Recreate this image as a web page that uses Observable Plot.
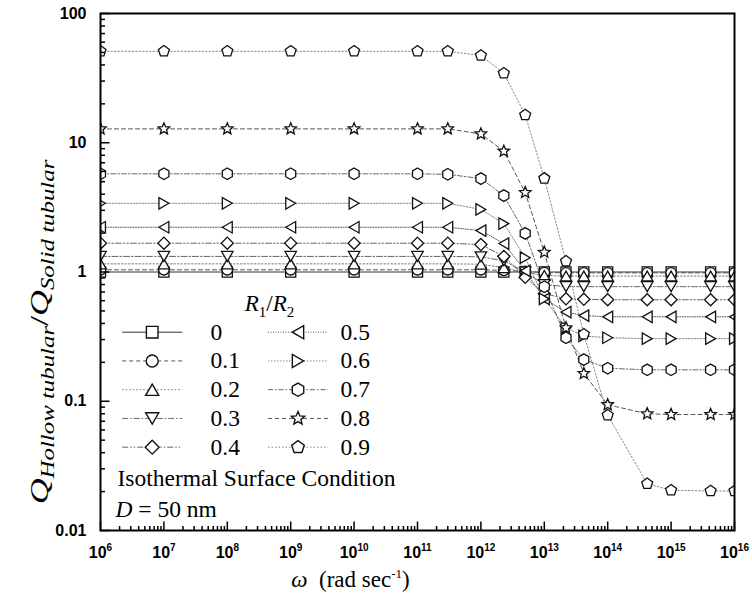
<!DOCTYPE html>
<html>
<head>
<meta charset="utf-8">
<script src="https://cdn.jsdelivr.net/npm/d3@7"></script>
<script src="https://cdn.jsdelivr.net/npm/@observablehq/plot@0.6"></script>
<style>
  html, body { margin: 0; padding: 0; background: #fff; }
  #chart svg { display: block; }
</style>
</head>
<body>
<div id="chart"></div>
<script>
// Angular frequency (rad/s) at which the heat-flux ratio was evaluated
const omega = [1e6, 1e7, 1e8, 1e9, 1e10, 1e11, 3e11, 1e12, 2.3e12, 5e12, 1e13, 2.2e13, 4.2e13, 1e14, 4.2e14, 1e15, 4.2e15, 1e16];

// Q_hollow / Q_solid for each radius ratio R1/R2
const q00 = [1, 1, 1, 1, 1, 1, 1, 1, 1, 1, 1, 1, 1, 1, 1, 1, 1, 1];
const q01 = [1.04, 1.04, 1.04, 1.04, 1.04, 1.04, 1.04, 1.04, 1.03, 1.01, 0.99, 0.985, 0.985, 0.985, 0.985, 0.985, 0.985, 0.985];
const q02 = [1.156, 1.156, 1.156, 1.156, 1.156, 1.156, 1.156, 1.15, 1.08, 0.99, 0.94, 0.93, 0.93, 0.93, 0.93, 0.93, 0.93, 0.93];
const q03 = [1.32, 1.32, 1.32, 1.32, 1.32, 1.32, 1.32, 1.31, 1.22, 1.0, 0.8, 0.77, 0.77, 0.77, 0.77, 0.77, 0.77, 0.77];
const q04 = [1.67, 1.67, 1.67, 1.67, 1.67, 1.67, 1.67, 1.63, 1.32, 0.91, 0.68, 0.62, 0.615, 0.61, 0.61, 0.61, 0.61, 0.61];
const q05 = [2.22, 2.22, 2.22, 2.22, 2.22, 2.22, 2.22, 2.09, 1.66, 1.02, 0.62, 0.49, 0.46, 0.45, 0.45, 0.45, 0.45, 0.45];
const q06 = [3.4, 3.4, 3.4, 3.4, 3.4, 3.4, 3.4, 3.05, 2.37, 1.29, 0.62, 0.37, 0.32, 0.31, 0.305, 0.305, 0.305, 0.305];
const q07 = [5.75, 5.75, 5.75, 5.75, 5.75, 5.75, 5.7, 5.28, 3.9, 1.99, 0.77, 0.31, 0.21, 0.18, 0.175, 0.175, 0.175, 0.175];
const q08 = [12.8, 12.8, 12.8, 12.8, 12.8, 12.8, 12.8, 11.7, 8.6, 4.12, 1.42, 0.37, 0.164, 0.094, 0.08, 0.079, 0.079, 0.079];
const q09 = [51, 51, 51, 51, 51, 51, 51, 47.3, 34.5, 16.4, 5.3, 1.21, 0.33, 0.078, 0.023, 0.0205, 0.0202, 0.0202];

const ratioLabels = ["0", "0.1", "0.2", "0.3", "0.4", "0.5", "0.6", "0.7", "0.8", "0.9"];

// Axis ticks and their labels
const xMajor = [1e6, 1e7, 1e8, 1e9, 1e10, 1e11, 1e12, 1e13, 1e14, 1e15, 1e16];
const xTickLabels = ["10^6", "10^7", "10^8", "10^9", "10^10", "10^11", "10^12", "10^13", "10^14", "10^15", "10^16"];
const yMajor = [0.01, 0.1, 1, 10, 100];
const yTickLabels = ["0.01", "0.1", "1", "10", "100"];

// minor ticks at 2..9 of every decade
function minorTicks(lo, hi) {
  const out = [];
  for (let d = lo; d < hi; d *= 10) for (let m = 2; m <= 9; m++) out.push(d * m);
  return out;
}
const xMinor = minorTicks(1e6, 1e16);
const yMinor = minorTicks(0.01, 100);

// ---- marker shapes (d3 symbol-type objects) ----
function polygon(n, start, k, ox = 0, oy = 0) {
  return {
    draw(ctx, size) {
      const r = Math.sqrt(size / Math.PI) * k;
      for (let i = 0; i < n; ++i) {
        const a = start + (2 * Math.PI * i) / n;
        const x = r * Math.cos(a) + ox * r, y = r * Math.sin(a) + oy * r;
        if (i === 0) ctx.moveTo(x, y); else ctx.lineTo(x, y);
      }
      ctx.closePath();
    }
  };
}
const symSquare = polygon(4, Math.PI / 4, 1.3);
const symCircle = {
  draw(ctx, size) {
    const r = Math.sqrt(size / Math.PI) * 0.95;
    ctx.moveTo(r, 0);
    ctx.arc(0, 0, r, 0, 2 * Math.PI);
  }
};
const symTriUp = polygon(3, -Math.PI / 2, 1.2, 0, 0.25);
const symTriDown = polygon(3, Math.PI / 2, 1.2, 0, -0.25);
const symDiamond = polygon(4, -Math.PI / 2, 1.1);
const symTriLeft = polygon(3, Math.PI, 1.2, 0.25, 0);
const symTriRight = polygon(3, 0, 1.2, -0.25, 0);
const symHexagon = polygon(6, -Math.PI / 2, 1.05);
const symStar = {
  draw(ctx, size) {
    const R = Math.sqrt(size / Math.PI) * 1.1, r = R * 0.45;
    for (let i = 0; i < 10; ++i) {
      const a = -Math.PI / 2 + (i * Math.PI) / 5, rr = i % 2 ? r : R;
      const x = rr * Math.cos(a), y = rr * Math.sin(a);
      if (i === 0) ctx.moveTo(x, y); else ctx.lineTo(x, y);
    }
    ctx.closePath();
  }
};
const symPentagon = polygon(5, -Math.PI / 2, 1.05);

// short line pieces: inward axis ticks and legend line samples
const tickRight = { draw(ctx, size) { const l = Math.sqrt(size / Math.PI); ctx.moveTo(0, 0); ctx.lineTo(l, 0); } };
const tickUp = { draw(ctx, size) { const l = Math.sqrt(size / Math.PI); ctx.moveTo(0, 0); ctx.lineTo(0, -l); } };
const legendLine = { draw(ctx, size) { const l = Math.sqrt(size / Math.PI); ctx.moveTo(-l, 0); ctx.lineTo(l, 0); } };

const series = [
  { label: ratioLabels[0], values: q00, symbol: symSquare,   dash: null,               color: "#333" },
  { label: ratioLabels[1], values: q01, symbol: symCircle,   dash: "4,3",              color: "#555" },
  { label: ratioLabels[2], values: q02, symbol: symTriUp,    dash: "1.5,2",            color: "#777" },
  { label: ratioLabels[3], values: q03, symbol: symTriDown,  dash: "6,2,1.5,2",        color: "#666" },
  { label: ratioLabels[4], values: q04, symbol: symDiamond,  dash: "6,2,1.5,2,1.5,2",  color: "#666" },
  { label: ratioLabels[5], values: q05, symbol: symTriLeft,  dash: "1,1.5",            color: "#555" },
  { label: ratioLabels[6], values: q06, symbol: symTriRight, dash: "1.5,1.5",          color: "#888" },
  { label: ratioLabels[7], values: q07, symbol: symHexagon,  dash: "5,2,1.5,2",        color: "#666" },
  { label: ratioLabels[8], values: q08, symbol: symStar,     dash: "4,3",              color: "#555" },
  { label: ratioLabels[9], values: q09, symbol: symPentagon, dash: "1.5,2",            color: "#888" }
];

const serif = "'Liberation Serif', 'Times New Roman', serif";
const sans = "'Liberation Sans', Arial, sans-serif";
const markerStroke = "#111";

const marks = [];

// curves
for (const s of series) {
  marks.push(Plot.line(omega, {
    x: d => d, y: (d, i) => s.values[i],
    stroke: s.color, strokeWidth: 1, strokeDasharray: s.dash, clip: true
  }));
}
// markers
for (const s of series) {
  marks.push(Plot.dot(omega, {
    x: d => d, y: (d, i) => s.values[i],
    symbol: s.symbol, r: 5.5, fill: "white", stroke: markerStroke, strokeWidth: 1.3, clip: true
  }));
}

// inward ticks on the left and bottom axes
marks.push(Plot.dot(yMajor, { y: d => d, frameAnchor: "left", symbol: tickRight, r: 9, stroke: "#000", strokeWidth: 1.5, fill: "none" }));
marks.push(Plot.dot(yMinor, { y: d => d, frameAnchor: "left", symbol: tickRight, r: 4.5, stroke: "#000", strokeWidth: 1.5, fill: "none" }));
marks.push(Plot.dot(xMajor, { x: d => d, frameAnchor: "bottom", symbol: tickUp, r: 9, stroke: "#000", strokeWidth: 1.5, fill: "none" }));
marks.push(Plot.dot(xMinor, { x: d => d, frameAnchor: "bottom", symbol: tickUp, r: 4.5, stroke: "#000", strokeWidth: 1.5, fill: "none" }));

// tick labels
marks.push(Plot.text(yMajor, {
  y: d => d, text: d => yTickLabels[yMajor.indexOf(d)], frameAnchor: "left", dx: -14,
  textAnchor: "end", lineAnchor: "middle", fontFamily: sans, fontWeight: "bold", fontSize: 16, fill: "#000"
}));
marks.push(Plot.text(xMajor, {
  x: d => d, text: d => xTickLabels[xMajor.indexOf(d)], frameAnchor: "bottom", dy: 22,
  textAnchor: "middle", lineAnchor: "middle", fontFamily: sans, fontWeight: "bold", fontSize: 16, fill: "#000"
}));

// axis titles
marks.push(Plot.text(["Q_{Hollow tubular}/Q_{Solid tubular}"], {
  text: d => d, frameAnchor: "left", rotate: -90, dx: -61, dy: 60,
  textAnchor: "middle", lineAnchor: "middle", fontFamily: serif, fontSize: 26, fontStyle: "italic", fill: "#000"
}));
marks.push(Plot.text(["ω  (rad sec^{-1})"], {
  text: d => d, frameAnchor: "bottom", dx: -67, dy: 56,
  textAnchor: "middle", lineAnchor: "bottom", fontFamily: serif, fontSize: 23, fill: "#000"
}));

// legend
marks.push(Plot.text(["R_1/R_2"], {
  text: d => d, frameAnchor: "top-left", dx: 169, dy: 297,
  textAnchor: "middle", lineAnchor: "bottom", fontFamily: serif, fontSize: 23, fill: "#000"
}));
series.forEach((s, k) => {
  const col = Math.floor(k / 5), row = k % 5;
  const cx = col ? 197.5 : 51.7;
  const cy = 318.7 + row * 28.75;
  marks.push(Plot.dot([s], { frameAnchor: "top-left", dx: cx, dy: cy, symbol: legendLine, r: 30,
    stroke: s.color, strokeWidth: 1, strokeDasharray: s.dash, fill: "none" }));
  marks.push(Plot.dot([s], { frameAnchor: "top-left", dx: cx, dy: cy, symbol: s.symbol, r: 6.3,
    fill: "white", stroke: markerStroke, strokeWidth: 1.4 }));
  marks.push(Plot.text([s], { frameAnchor: "top-left", dx: col ? 240 : 110, dy: cy, text: d => d.label,
    textAnchor: "start", lineAnchor: "middle", fontFamily: serif, fontSize: 23.5, fill: "#000" }));
});

// annotations
marks.push(Plot.text(["Isothermal Surface Condition"], {
  text: d => d, frameAnchor: "top-left", dx: 17, dy: 472,
  textAnchor: "start", lineAnchor: "bottom", fontFamily: serif, fontSize: 23.5, fill: "#000"
}));
marks.push(Plot.text(["D = 50 nm"], {
  text: d => d, frameAnchor: "top-left", dx: 15, dy: 503,
  textAnchor: "start", lineAnchor: "bottom", fontFamily: serif, fontSize: 23.5, fill: "#000"
}));

marks.push(Plot.frame({ stroke: "#000", strokeWidth: 2 }));

const chart = Plot.plot({
  width: 752,
  height: 604,
  marginLeft: 100,
  marginRight: 18,
  marginTop: 13,
  marginBottom: 74,
  x: { type: "log", domain: [1e6, 1e16], axis: null },
  y: { type: "log", domain: [0.01, 100], axis: null },
  style: { background: "white", fontFamily: serif, overflow: "visible" },
  marks
});
document.getElementById("chart").appendChild(chart);

// ---- rich text: sub/superscripts and mixed styles inside a single <text> ----
const SVGNS = "http://www.w3.org/2000/svg";
function setRich(textEl, parts) {
  while (textEl.firstChild) textEl.removeChild(textEl.firstChild);
  let shift = 0;
  for (const p of parts) {
    const t = document.createElementNS(SVGNS, "tspan");
    t.textContent = p.text;
    const target = p.dy || 0;
    if (target - shift !== 0) t.setAttribute("dy", target - shift);
    shift = target;
    if (p.size) t.setAttribute("font-size", p.size);
    if (p.style) t.setAttribute("font-style", p.style);
    if (p.weight) t.setAttribute("font-weight", p.weight);
    textEl.appendChild(t);
  }
}

for (const t of Array.from(chart.querySelectorAll("text"))) {
  const s = t.textContent;
  let m;
  if ((m = /^10\^(\d+)$/.exec(s))) {
    setRich(t, [{ text: "10" }, { text: m[1], size: 10, dy: -7 }]);
  } else if (s.startsWith("Q_{")) {
    setRich(t, [
      { text: "Q" },
      { text: "Hollow tubular", size: 18, dy: 6 },
      { text: "/", style: "normal" },
      { text: "Q" },
      { text: "Solid tubular", size: 18, dy: 6 }
    ]);
    t.setAttribute("transform", (t.getAttribute("transform") || "") + " scale(1.38,1)");
  } else if (s.startsWith("ω")) {
    setRich(t, [
      { text: "ω", style: "italic" },
      { text: "\u00a0\u00a0(rad sec" },
      { text: "-1", size: 13, dy: -9 },
      { text: ")" }
    ]);
  } else if (s === "R_1/R_2") {
    setRich(t, [
      { text: "R", style: "italic" },
      { text: "1", size: 15, dy: 6 },
      { text: "/" },
      { text: "R", style: "italic" },
      { text: "2", size: 15, dy: 6 }
    ]);
  } else if (s === "D = 50 nm") {
    setRich(t, [{ text: "D", style: "italic" }, { text: " = 50 nm" }]);
  }
}
</script>
</body>
</html>
